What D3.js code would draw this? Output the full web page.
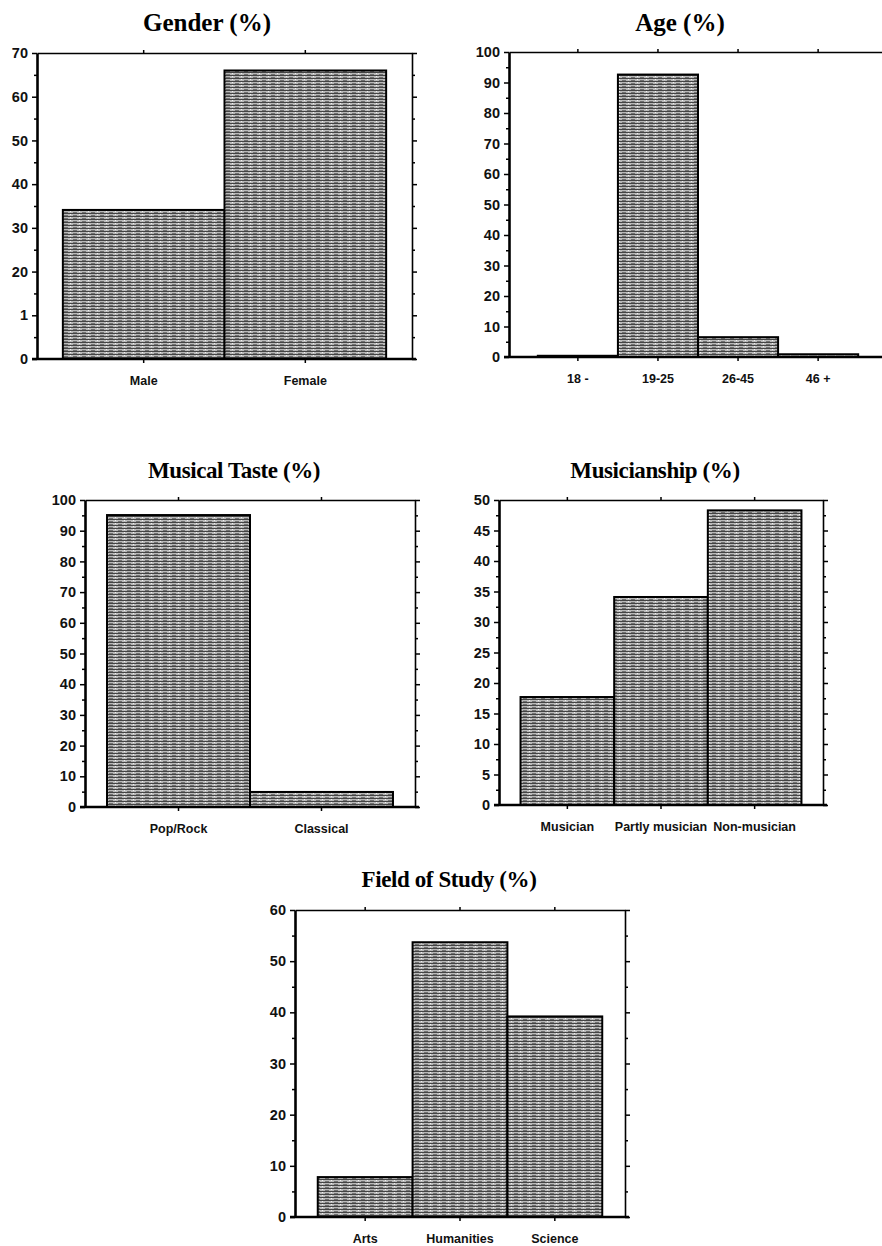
<!DOCTYPE html>
<html>
<head>
<meta charset="utf-8">
<script src="https://cdn.jsdelivr.net/npm/d3@7"></script>
<style>
  body { margin: 0; background: #fff; }
  svg { display: block; }
</style>
</head>
<body>
<svg id="chart" width="882" height="1246"></svg>
<script>
// data
const genderCategories = ["Male", "Female"];
const genderValues = [34.1, 66.0];
const genderTicks = [0, 10, 20, 30, 40, 50, 60, 70];
const genderTickLabels = ["0", "1", "20", "30", "40", "50", "60", "70"];

const ageCategories = ["18 -", "19-25", "26-45", "46 +"];
const ageValues = [0.4, 92.6, 6.5, 0.9];
const ageTicks = [0, 10, 20, 30, 40, 50, 60, 70, 80, 90, 100];

const tasteCategories = ["Pop/Rock", "Classical"];
const tasteValues = [95.1, 4.9];
const tasteTicks = [0, 10, 20, 30, 40, 50, 60, 70, 80, 90, 100];

const musicianCategories = ["Musician", "Partly musician", "Non-musician"];
const musicianValues = [17.7, 34.1, 48.3];
const musicianTicks = [0, 5, 10, 15, 20, 25, 30, 35, 40, 45, 50];

const fieldCategories = ["Arts", "Humanities", "Science"];
const fieldValues = [7.8, 53.7, 39.2];
const fieldTicks = [0, 10, 20, 30, 40, 50, 60];

const svg = d3.select("#chart");

// stippled grey fill like the scanned bars
const defs = svg.append("defs");
const pat = defs.append("pattern")
  .attr("id", "stipple")
  .attr("patternUnits", "userSpaceOnUse")
  .attr("width", 9)
  .attr("height", 3);
pat.append("rect").attr("width", 9).attr("height", 3).attr("fill", "#b9b9b9");
pat.append("rect").attr("y", 0).attr("width", 9).attr("height", 1).attr("fill", "#444");
pat.append("rect").attr("x", 1).attr("y", 2).attr("width", 4).attr("height", 1).attr("fill", "#707070");
pat.append("rect").attr("x", 7).attr("y", 1).attr("width", 1).attr("height", 1).attr("fill", "#f2f2f2");

// panel layout
const panels = [
  { title: "Gender (%)", categories: genderCategories, values: genderValues, ticks: genderTicks, labels: genderTickLabels,
    left: 37, right: 412, top: 53, bottom: 359, outer: 0.16, tx: 207, ty: 31, tsize: 25 },
  { title: "Age (%)", categories: ageCategories, values: ageValues, ticks: ageTicks, labels: ageTicks.map(String),
    left: 509, right: 887, top: 52, bottom: 357, outer: 0.36, tx: 680, ty: 31, tsize: 25 },
  { title: "Musical Taste (%)", categories: tasteCategories, values: tasteValues, ticks: tasteTicks, labels: tasteTicks.map(String),
    left: 85, right: 415, top: 500, bottom: 807, outer: 0.154, tx: 234, ty: 478, tsize: 23 },
  { title: "Musicianship (%)", categories: musicianCategories, values: musicianValues, ticks: musicianTicks, labels: musicianTicks.map(String),
    left: 499, right: 823, top: 500, bottom: 805, outer: 0.23, tx: 655, ty: 478, tsize: 23 },
  { title: "Field of Study (%)", categories: fieldCategories, values: fieldValues, ticks: fieldTicks, labels: fieldTicks.map(String),
    left: 295, right: 625, top: 910, bottom: 1217, outer: 0.24, tx: 449, ty: 887, tsize: 23 }
];

function styleAxis(sel, width) {
  sel.select(".domain").attr("stroke", "#000").attr("stroke-width", width);
  sel.selectAll(".tick line").attr("stroke", "#000").attr("stroke-width", 1.5);
}

function drawPanel(p) {
  const x = d3.scaleBand()
    .domain(p.categories)
    .range([p.left, p.right])
    .paddingInner(0)
    .paddingOuter(p.outer);

  const y = d3.scaleLinear()
    .domain([0, d3.max(p.ticks)])
    .range([p.bottom, p.top]);

  // minor ticks halfway between the major ones
  const minor = p.ticks.slice(1).map((t, i) => (t + p.ticks[i]) / 2);

  const g = svg.append("g");

  // bars
  g.selectAll(".bar")
    .data(p.values)
    .enter()
    .append("rect")
    .attr("class", "bar")
    .attr("x", (d, i) => x(p.categories[i]))
    .attr("y", (d) => y(d))
    .attr("width", x.bandwidth())
    .attr("height", (d) => y(0) - y(d))
    .attr("fill", "url(#stipple)")
    .attr("stroke", "#000")
    .attr("stroke-width", 2);

  // top frame
  g.append("g")
    .attr("transform", `translate(0,${p.top})`)
    .call(d3.axisTop(x).tickSize(3).tickSizeOuter(0).tickFormat(""))
    .call(styleAxis, 1.6);

  // right frame, major + minor ticks
  g.append("g")
    .attr("transform", `translate(${p.right},0)`)
    .call(d3.axisRight(y).tickValues(p.ticks).tickSize(5).tickSizeOuter(0).tickFormat(""))
    .call(styleAxis, 1.6);
  g.append("g")
    .attr("transform", `translate(${p.right},0)`)
    .call(d3.axisRight(y).tickValues(minor).tickSize(3).tickSizeOuter(0).tickFormat(""))
    .call((s) => s.select(".domain").remove())
    .call(styleAxis, 0);

  // left axis
  const yAxis = g.append("g")
    .attr("transform", `translate(${p.left},0)`)
    .call(d3.axisLeft(y).tickValues(p.ticks).tickSize(5).tickSizeOuter(0).tickPadding(4)
      .tickFormat((d, i) => p.labels[i]))
    .call(styleAxis, 2.6);
  yAxis.selectAll("text")
    .attr("fill", "#111")
    .style("font-family", "'Liberation Sans', Arial, sans-serif")
    .style("font-size", "14.5px")
    .style("font-weight", "bold");
  g.append("g")
    .attr("transform", `translate(${p.left},0)`)
    .call(d3.axisLeft(y).tickValues(minor).tickSize(3).tickSizeOuter(0).tickFormat(""))
    .call((s) => s.select(".domain").remove())
    .call(styleAxis, 0);

  // bottom axis
  const xAxis = g.append("g")
    .attr("transform", `translate(0,${p.bottom})`)
    .call(d3.axisBottom(x).tickSize(4).tickSizeOuter(0).tickPadding(13))
    .call(styleAxis, 2.6);
  xAxis.select(".domain").attr("d", `M${p.left - 5},0H${p.right + 4}`);
  xAxis.selectAll("text")
    .attr("fill", "#111")
    .style("font-family", "'Liberation Sans', Arial, sans-serif")
    .style("font-size", "12.5px")
    .style("font-weight", "bold");

  // title
  g.append("text")
    .attr("x", p.tx)
    .attr("y", p.ty)
    .attr("text-anchor", "middle")
    .style("font-family", "'Liberation Serif', 'Times New Roman', serif")
    .style("font-weight", "bold")
    .style("font-size", p.tsize + "px")
    .style("letter-spacing", p.tsize < 25 ? "-0.4px" : "0px")
    .text(p.title);
}

panels.forEach(drawPanel);
</script>
</body>
</html>
